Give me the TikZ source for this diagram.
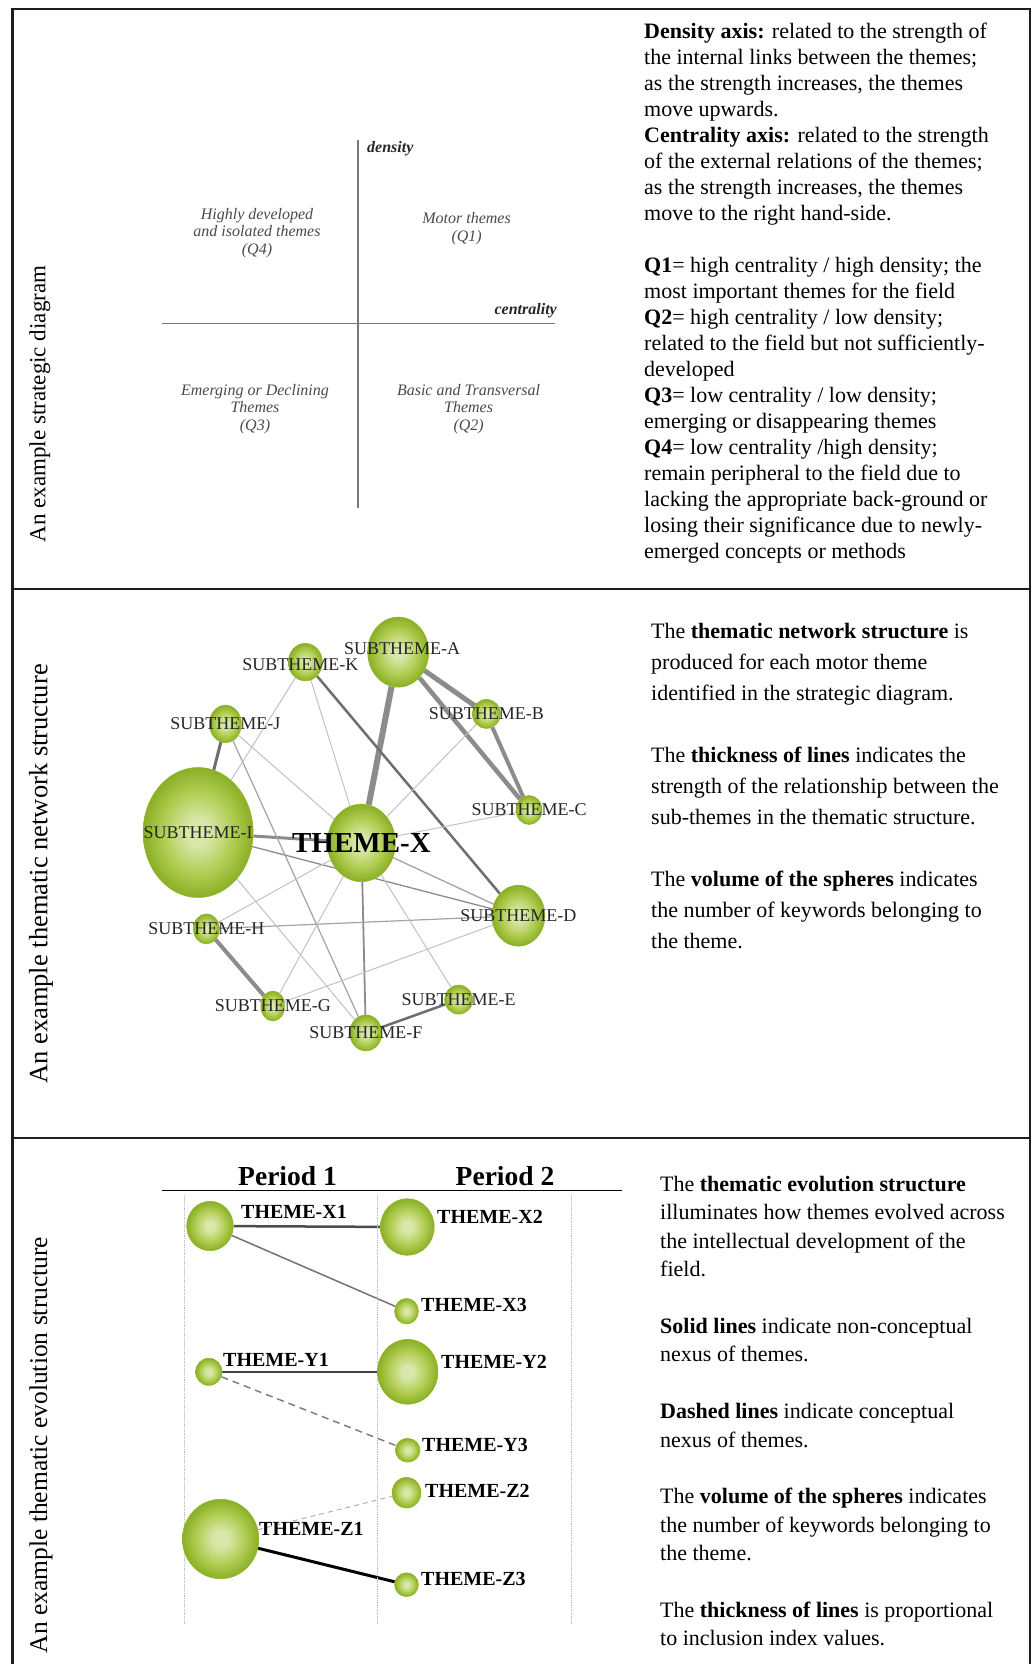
\documentclass[tikz,border=0pt]{standalone}
\usepackage{fontspec}
\setmainfont{Liberation Serif}
\usetikzlibrary{shapes.geometric,backgrounds}

\definecolor{framecol}{HTML}{1E1E1E}
\definecolor{ballin}{HTML}{D9E7A9}
\definecolor{ballmid}{HTML}{B0CD52}
\definecolor{ballout}{HTML}{8AAF25}
\definecolor{ballrim}{HTML}{94B52E}
\definecolor{quadgray}{HTML}{4A4A4A}
\definecolor{axisgray}{HTML}{7A7A7A}
\definecolor{linkgray}{HTML}{8C8C8C}
\definecolor{darkgray}{HTML}{6E6E6E}
\definecolor{lightgray}{HTML}{C2C2C2}

\pgfdeclareradialshading{ballshade}{\pgfpoint{0bp}{0bp}}{color(0bp)=(ballin); color(5bp)=(ballin); color(16bp)=(ballmid); color(25bp)=(ballout); color(50bp)=(ballout)}

\begin{document}
\begin{tikzpicture}[x=1pt, y=-1pt,
  ball/.style={ellipse, inner sep=0pt, draw=ballrim, line width=0.6pt, shade, shading=ballshade},
  netlabel/.style={inner sep=0pt, text=black!85, font=\fontsize{18}{18}\selectfont},
  evolabel/.style={anchor=west, inner sep=0pt, font=\fontsize{20}{20}\selectfont\bfseries},
  quad/.style={align=center, text=quadgray, font=\fontsize{16}{17.5}\selectfont\itshape},
  axislabel/.style={inner sep=0pt, text=black!85, font=\fontsize{16}{16}\selectfont\bfseries\itshape},
  side/.style={rotate=90, inner sep=0pt},
  notes/.style={anchor=north west, align=left, inner sep=0pt},
  frame/.style={draw=framecol, line width=2.6pt},
  thicklink/.style={draw=linkgray},
  darklink/.style={draw=darkgray},
  thinlink/.style={draw=lightgray, line width=1pt}]

\useasboundingbox (0,0) rectangle (1035,1664);

% outer frame and rows
\draw[frame] (12.5,1664) -- (12.5,9) -- (1030,9) -- (1030,1664);
\draw[frame] (12.5,589) -- (1030,589);
\draw[frame] (12.5,1138) -- (1030,1138);

% row titles
\node[side, font=\fontsize{23}{23}\selectfont] (title1) at (40,404) {An example strategic diagram};
\node[side, font=\fontsize{26.5}{26.5}\selectfont] (title2) at (41,874) {An example thematic network structure};
\node[side, font=\fontsize{25.5}{25.5}\selectfont] (title3) at (41,1445) {An example thematic evolution structure};

% strategic diagram
\draw[axisgray, line width=1.2pt] (358,140) -- (358,508);
\draw[axisgray, line width=1.2pt] (162,323.7) -- (555,323.7);
\node[axislabel, anchor=west] (dens) at (367,148.5) {density};
\node[axislabel, anchor=east] (cent) at (557,310.5) {centrality};
\node[quad] (q4) at (257,233) {Highly developed\\and isolated themes\\(Q4)};
\node[quad] (q1) at (466.6,228.7) {Motor themes\\(Q1)};
\node[quad] (q3) at (255,409) {Emerging or Declining\\Themes\\(Q3)};
\node[quad] (q2) at (468.6,409) {Basic and Transversal\\Themes\\(Q2)};

\node[notes, font=\fontsize{22}{26}\selectfont] (note1) at (644,23) {\textbf{Density axis:} related to the strength of\\
the internal links between the themes;\\
as the strength increases, the themes\\
move upwards.\\
\textbf{Centrality axis:} related to the strength\\
of the external relations of the themes;\\
as the strength increases, the themes\\
move to the right hand-side.\\[26pt]
\textbf{Q1}= high centrality / high density; the\\
most important themes for the field\\
\textbf{Q2}= high centrality / low density;\\
related to the field but not sufficiently-\\
developed\\
\textbf{Q3}= low centrality / low density;\\
emerging or disappearing themes\\
\textbf{Q4}= low centrality /high density;\\
remain peripheral to the field due to\\
lacking the appropriate back-ground or\\
losing their significance due to newly-\\
emerged concepts or methods};

% thematic network
\node[ball, minimum width=110pt, minimum height=130pt, label={[netlabel]center:SUBTHEME-I}] (si) at (198.1,832.5) {};
\node[ball, minimum width=68pt, minimum height=77.5pt, label={[netlabel, text=black, font=\fontsize{29}{29}\selectfont\bfseries]center:THEME-X}] (tx) at (361.4,842.9) {};
\node[ball, minimum width=61pt, minimum height=70pt, label={[netlabel, xshift=4pt, yshift=3pt]center:SUBTHEME-A}] (sa) at (398.2,652.1) {};
\node[ball, minimum width=34pt, minimum height=37.5pt, label={[netlabel, xshift=-5pt, yshift=-3pt]center:SUBTHEME-K}] (sk) at (305.3,662.1) {};
\node[ball, minimum width=32pt, minimum height=37.5pt, label={[netlabel]center:SUBTHEME-J}] (sj) at (225.4,723.9) {};
\node[ball, minimum width=28pt, minimum height=29pt, label={[netlabel]center:SUBTHEME-B}] (sb) at (486.4,713.9) {};
\node[ball, minimum width=26pt, minimum height=29pt, label={[netlabel]center:SUBTHEME-C}] (sc) at (529,810) {};
\node[ball, minimum width=53pt, minimum height=61pt, label={[netlabel]center:SUBTHEME-D}] (sd) at (518.4,915.7) {};
\node[ball, minimum width=26pt, minimum height=30pt, label={[netlabel]center:SUBTHEME-H}] (sh) at (206.4,928.9) {};
\node[ball, minimum width=24pt, minimum height=30pt, label={[netlabel]center:SUBTHEME-G}] (sg) at (272.8,1006) {};
\node[ball, minimum width=32pt, minimum height=36pt, label={[netlabel]center:SUBTHEME-F}] (sf) at (365.8,1032.9) {};
\node[ball, minimum width=28pt, minimum height=29pt, label={[netlabel]center:SUBTHEME-E}] (se) at (458.7,999.6) {};

\node[notes, font=\fontsize{22}{31}\selectfont] (note2) at (651,623) {The \textbf{thematic network structure} is\\
produced for each motor theme\\
identified in the strategic diagram.\\[31pt]
The \textbf{thickness of lines} indicates the\\
strength of the relationship between the\\
sub-themes in the thematic structure.\\[31pt]
The \textbf{volume of the spheres} indicates\\
the number of keywords belonging to\\
the theme.};

% thematic evolution
\draw[black, line width=1.2pt] (162,1190.6) -- (622,1190.6);
\foreach \col in {183.9,377.6,571.4}
  \draw[gray!55, densely dotted, line width=0.8pt] (\col,1195) -- (\col,1624);
\node[font=\fontsize{27.5}{27.5}\selectfont\bfseries] (per1) at (287.5,1176) {Period 1};
\node[font=\fontsize{27.5}{27.5}\selectfont\bfseries] (per2) at (505,1176) {Period 2};

\node[ball, minimum width=46.6pt, minimum height=49.4pt] (x1) at (210,1226) {};
\node[ball, minimum width=53.8pt, minimum height=56.6pt] (x2) at (407.3,1227) {};
\node[ball, minimum width=23.8pt, minimum height=25.6pt] (x3) at (406.5,1311.2) {};
\node[ball, minimum width=26.4pt, minimum height=27.2pt] (y1) at (208.8,1371.8) {};
\node[ball, minimum width=60.4pt, minimum height=64.8pt] (y2) at (407.7,1371.8) {};
\node[ball, minimum width=24.6pt, minimum height=23.8pt] (y3) at (407.7,1450.2) {};
\node[ball, minimum width=28.8pt, minimum height=30.6pt] (z2) at (406.5,1492.7) {};
\node[ball, minimum width=76.4pt, minimum height=79.4pt] (z1) at (220.6,1539) {};
\node[ball, minimum width=23.8pt, minimum height=23.8pt] (z3) at (406.5,1584.7) {};

\node[evolabel] (lx1) at (241,1212) {THEME-X1};
\node[evolabel] (lx2) at (437,1217) {THEME-X2};
\node[evolabel] (lx3) at (421,1305) {THEME-X3};
\node[evolabel] (ly1) at (223,1360) {THEME-Y1};
\node[evolabel] (ly2) at (441,1362) {THEME-Y2};
\node[evolabel] (ly3) at (422,1445) {THEME-Y3};
\node[evolabel] (lz2) at (425,1491) {THEME-Z2};
\node[evolabel] (lz1) at (259,1528.5) {THEME-Z1};
\node[evolabel] (lz3) at (421,1579) {THEME-Z3};

\node[notes, font=\fontsize{22}{28.4}\selectfont] (note3) at (660,1176) {The \textbf{thematic evolution structure}\\
illuminates how themes evolved across\\
the intellectual development of the\\
field.\\[28.4pt]
\textbf{Solid lines} indicate non-conceptual\\
nexus of themes.\\[28.4pt]
\textbf{Dashed lines} indicate conceptual\\
nexus of themes.\\[28.4pt]
The \textbf{volume of the spheres} indicates\\
the number of keywords belonging to\\
the theme.\\[28.4pt]
The \textbf{thickness of lines} is proportional\\
to inclusion index values.};

% links under the spheres
\begin{scope}[on background layer]
\fill[white] (0,0) rectangle (1035,1664);
\draw[thicklink, line width=6pt] (tx) -- (sa);
\draw[thicklink, line width=5pt] (sa) -- (sb);
\draw[thicklink, line width=4.5pt] (sa) -- (sc);
\draw[thicklink, line width=4pt] (sb) -- (sc);
\draw[thicklink, line width=4pt] (sh) -- (sg);
\draw[darklink, line width=2.5pt] (sk) -- (sd);
\draw[darklink, line width=3pt] (sj) -- (si);
\draw[thicklink, line width=3pt] (si) -- (tx);
\draw[darklink, line width=2.5pt] (sf) -- (se);
\draw[thicklink, line width=1.8pt] (tx) -- (sf);
\draw[linkgray, line width=1.3pt] (si) -- (sd);
\draw[linkgray!80, line width=1.3pt] (tx) -- (sd);
\draw[linkgray!80, line width=1.2pt] (sh) -- (sd);
\draw[linkgray!80, line width=1.2pt] (sj) -- (sf);
\draw[thinlink] (sk) -- (tx);
\draw[thinlink] (sk) -- (si);
\draw[thinlink] (sj) -- (tx);
\draw[thinlink] (si) -- (sf);
\draw[thinlink] (tx) -- (sh);
\draw[thinlink] (tx) -- (sg);
\draw[thinlink] (tx) -- (se);
\draw[thinlink] (tx) -- (sc);
\draw[thinlink] (tx) -- (sb);
\draw[thinlink] (sg) -- (sd);

\draw[black!70, line width=2.5pt] (x1) -- (x2);
\draw[black!55, line width=1.5pt] (x1) -- (x3);
\draw[black!75, line width=2pt] (y1) -- (y2);
\draw[black!50, line width=1.5pt, dash pattern=on 7pt off 5pt] (y1) -- (y3);
\draw[black!30, line width=1pt, dash pattern=on 5pt off 4pt] (z1) -- (z2);
\draw[black, line width=3pt] (z1) -- (z3);
\end{scope}

\end{tikzpicture}
\end{document}
